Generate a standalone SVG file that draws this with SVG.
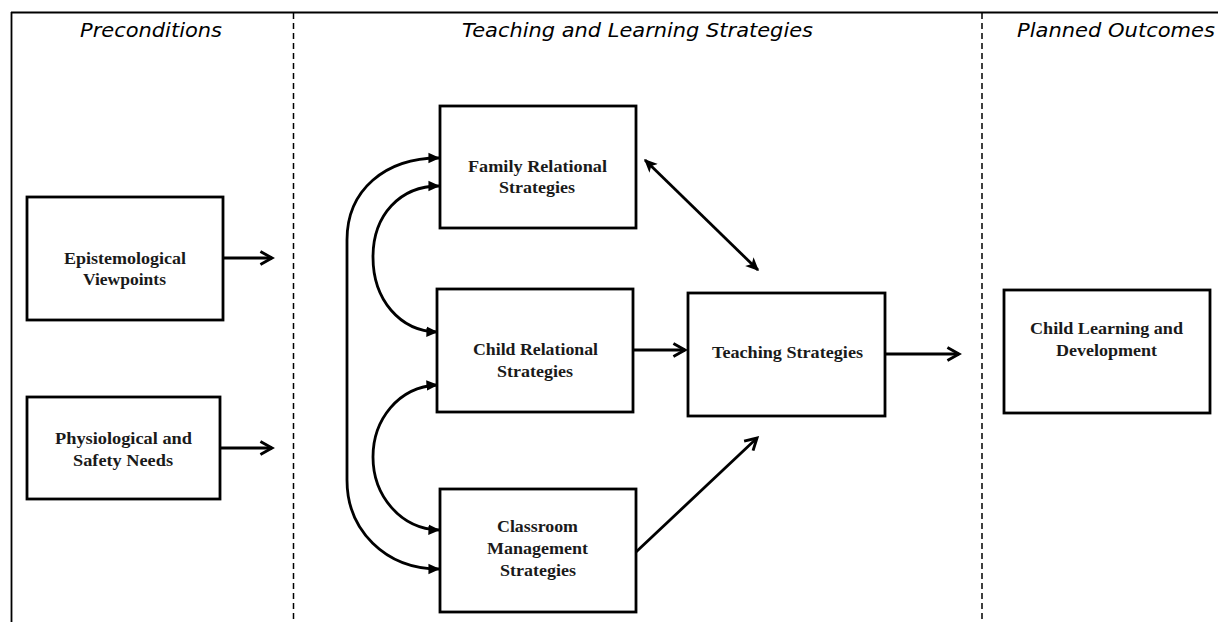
<svg xmlns="http://www.w3.org/2000/svg" width="1218" height="622" viewBox="0 0 1218 622">
<style>
.frame{stroke:#000;stroke-width:1.8;fill:none}
.dash{stroke:#000;stroke-width:1.5;stroke-dasharray:6,4;fill:none}
.hdr{font-family:"DejaVu Sans",Verdana,sans-serif;font-style:italic;font-size:19px;fill:#000}
.box{fill:#fff;stroke:#000;stroke-width:2.8}
.lbl{font-family:"Liberation Serif","Times New Roman",serif;font-weight:bold;font-size:17px;fill:#1a1a1a}
.conn{stroke:#000;stroke-width:2.8;fill:none}
</style>
<defs>
<marker id="chev" viewBox="0 0 12 12" refX="10" refY="6" markerWidth="6.2" markerHeight="6.2" orient="auto-start-reverse" markerUnits="strokeWidth">
<path d="M2,1.5 L10,6 L2,10.5" fill="none" stroke="#000" stroke-width="2"/>
</marker>
<marker id="tri" viewBox="0 0 10 10" refX="9" refY="5" markerWidth="4.2" markerHeight="4.2" orient="auto-start-reverse" markerUnits="strokeWidth">
<path d="M0,0.5 L10,5 L0,9.5 z" fill="#000"/>
</marker>
<marker id="tri2" viewBox="0 0 10 10" refX="9" refY="5" markerWidth="4.8" markerHeight="4.8" orient="auto-start-reverse" markerUnits="strokeWidth">
<path d="M0,0.5 L10,5 L0,9.5 L2.5,5 z" fill="#000"/>
</marker>
</defs>
<rect width="1218" height="622" fill="#fff"/>
<g id="frame">
<line class="frame" x1="11" y1="12.5" x2="1218" y2="12.5"/>
<line class="frame" x1="11.5" y1="12" x2="11.5" y2="622"/>
<line class="dash" x1="293.5" y1="13" x2="293.5" y2="622"/>
<line class="dash" x1="982" y1="13" x2="982" y2="622"/>
</g>
<g id="headers">
<text class="hdr" x="80" y="37" textLength="142" lengthAdjust="spacingAndGlyphs">Preconditions</text>
<text class="hdr" x="462" y="37" textLength="351" lengthAdjust="spacingAndGlyphs">Teaching and Learning Strategies</text>
<text class="hdr" x="1017" y="37" textLength="198" lengthAdjust="spacingAndGlyphs">Planned Outcomes</text>
</g>
<g id="n-epistemological">
<rect class="box" x="27" y="197" width="196" height="123"/>
<text class="lbl" x="64" y="264" textLength="122" lengthAdjust="spacingAndGlyphs">Epistemological</text>
<text class="lbl" x="83" y="285" textLength="83" lengthAdjust="spacingAndGlyphs">Viewpoints</text>
</g>
<g id="n-physiological">
<rect class="box" x="27" y="397" width="193" height="102"/>
<text class="lbl" x="55" y="444" textLength="137" lengthAdjust="spacingAndGlyphs">Physiological  and</text>
<text class="lbl" x="73" y="466" textLength="100" lengthAdjust="spacingAndGlyphs">Safety Needs</text>
</g>
<g id="n-family">
<rect class="box" x="440" y="106" width="196" height="122"/>
<text class="lbl" x="468" y="172" textLength="139" lengthAdjust="spacingAndGlyphs">Family Relational</text>
<text class="lbl" x="499" y="193" textLength="76" lengthAdjust="spacingAndGlyphs">Strategies</text>
</g>
<g id="n-child">
<rect class="box" x="437" y="289" width="196" height="123"/>
<text class="lbl" x="473" y="355" textLength="125" lengthAdjust="spacingAndGlyphs">Child  Relational</text>
<text class="lbl" x="497" y="377" textLength="76" lengthAdjust="spacingAndGlyphs">Strategies</text>
</g>
<g id="n-classroom">
<rect class="box" x="440" y="489" width="196" height="123"/>
<text class="lbl" x="497" y="532" textLength="81" lengthAdjust="spacingAndGlyphs">Classroom</text>
<text class="lbl" x="487" y="554" textLength="101" lengthAdjust="spacingAndGlyphs">Management</text>
<text class="lbl" x="500" y="576" textLength="76" lengthAdjust="spacingAndGlyphs">Strategies</text>
</g>
<g id="n-teaching">
<rect class="box" x="688" y="293" width="197" height="123"/>
<text class="lbl" x="712" y="358" textLength="151" lengthAdjust="spacingAndGlyphs">Teaching  Strategies</text>
</g>
<g id="n-outcome">
<rect class="box" x="1004" y="290" width="206" height="123"/>
<text class="lbl" x="1030" y="334" textLength="153" lengthAdjust="spacingAndGlyphs">Child  Learning  and</text>
<text class="lbl" x="1056" y="356" textLength="101" lengthAdjust="spacingAndGlyphs">Development</text>
</g>
<g id="connectors">
<line class="conn" x1="223" y1="258" x2="272" y2="258" marker-end="url(#chev)"/>
<line class="conn" x1="220" y1="448" x2="272" y2="448" marker-end="url(#chev)"/>
<line class="conn" x1="633" y1="350" x2="685" y2="350" marker-end="url(#chev)"/>
<line class="conn" x1="885" y1="354" x2="959" y2="354" marker-end="url(#chev)"/>
<line class="conn" x1="636" y1="552" x2="757" y2="438" marker-end="url(#chev)"/>
<line class="conn" x1="645" y1="160" x2="758" y2="270" marker-start="url(#tri2)" marker-end="url(#tri2)"/>
<path class="conn" d="M439,158 C385,158 347,190 347,240 L347,480 C347,530 385,569 439,569" marker-start="url(#tri)" marker-end="url(#tri)"/>
<path class="conn" d="M439,186 C400,186 373,215 373,257 C373,300 400,331 437,332" marker-start="url(#tri)" marker-end="url(#tri)"/>
<path class="conn" d="M437,385 C398,387 373,420 373,457 C373,495 400,529 439,530" marker-start="url(#tri)" marker-end="url(#tri)"/>
</g>
</svg>
